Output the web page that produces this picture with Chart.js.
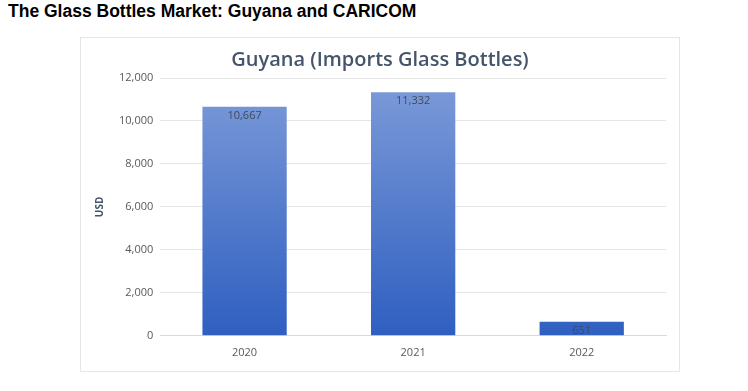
<!DOCTYPE html>
<html>
<head>
<meta charset="utf-8">
<script src="https://cdn.jsdelivr.net/npm/chart.js@4"></script>
<style>
  body { margin: 0; background: #fff; width: 748px; height: 391px; position: relative; overflow: hidden; }
  #heading { position: absolute; left: 8px; top: 1px; font-family: "Liberation Sans", Arial, sans-serif; font-weight: bold; font-size: 17.5px; color: #000; }
  #box { position: absolute; left: 80px; top: 37px; width: 600px; height: 335px; border: 1px solid #e6e6e6; box-sizing: border-box; }
</style>
</head>
<body>
<div id="heading">The Glass Bottles Market: Guyana and CARICOM</div>
<div id="box"><canvas id="graphCanvas"></canvas></div>
<script>
const years = ['2020', '2021', '2022'];
const importsUsd = [10667, 11332, 651];
const yTicks = [0, 2000, 4000, 6000, 8000, 10000, 12000];

// gradient cho cột: sáng phía trên, đậm phía dưới
function barGradient(context) {
    const chart = context.chart;
    const area = chart.chartArea;
    if (!area) return '#4a74cc';
    const g = chart.ctx.createLinearGradient(0, area.top, 0, area.bottom);
    g.addColorStop(0, '#7d9bd9');
    g.addColorStop(1, '#2f5fc0');
    return g;
}

// vẽ nhãn giá trị bên trong đỉnh cột
const valueLabels = {
    id: 'valueLabels',
    afterDatasetsDraw(chart) {
        const ctx = chart.ctx;
        const meta = chart.getDatasetMeta(0);
        ctx.save();
        ctx.font = '11px "Open Sans", sans-serif';
        ctx.fillStyle = '#404a5c';
        ctx.textAlign = 'center';
        ctx.textBaseline = 'middle';
        meta.data.forEach((bar, i) => {
            ctx.fillText(importsUsd[i].toLocaleString('en-US'), bar.x, bar.y + 9);
        });
        ctx.restore();
    }
};

const ctx = document.getElementById('graphCanvas').getContext('2d');
const myChart = new Chart(ctx, {
    type: 'bar',
    data: {
        labels: years,
        datasets: [{
            data: importsUsd,
            backgroundColor: barGradient,
            categoryPercentage: 1,
            barPercentage: 0.5
        }]
    },
    options: {
        responsive: true,
        maintainAspectRatio: false,
        animation: false,
        layout: { padding: { left: 13, right: 13, top: 4, bottom: 10 } },
        plugins: {
            legend: { display: false },
            tooltip: { enabled: false },
            title: {
                display: true,
                text: 'Guyana (Imports Glass Bottles)',
                color: '#44546a',
                font: { family: '"Open Sans", sans-serif', size: 20, weight: '600' },
                padding: { top: 6, bottom: 6 }
            }
        },
        scales: {
            x: {
                grid: { display: false },
                border: { color: '#d9d9d9' },
                ticks: { color: '#595959', font: { family: '"Open Sans", sans-serif', size: 11 }, padding: 2 }
            },
            y: {
                min: 0,
                max: 12000,
                afterBuildTicks(axis) { axis.ticks = yTicks.map(v => ({ value: v })); },
                grid: { color: '#e6e6e6', drawTicks: false },
                border: { display: false },
                ticks: {
                    color: '#595959',
                    font: { family: '"Open Sans", sans-serif', size: 11 },
                    padding: 7,
                    callback: v => v.toLocaleString('en-US')
                },
                title: {
                    display: true,
                    text: 'USD',
                    color: '#44546a',
                    font: { family: '"Open Sans", sans-serif', size: 10, weight: 'bold' },
                    padding: { top: 0, bottom: 6 }
                }
            }
        }
    },
    plugins: [valueLabels]
});
</script>
</body>
</html>
